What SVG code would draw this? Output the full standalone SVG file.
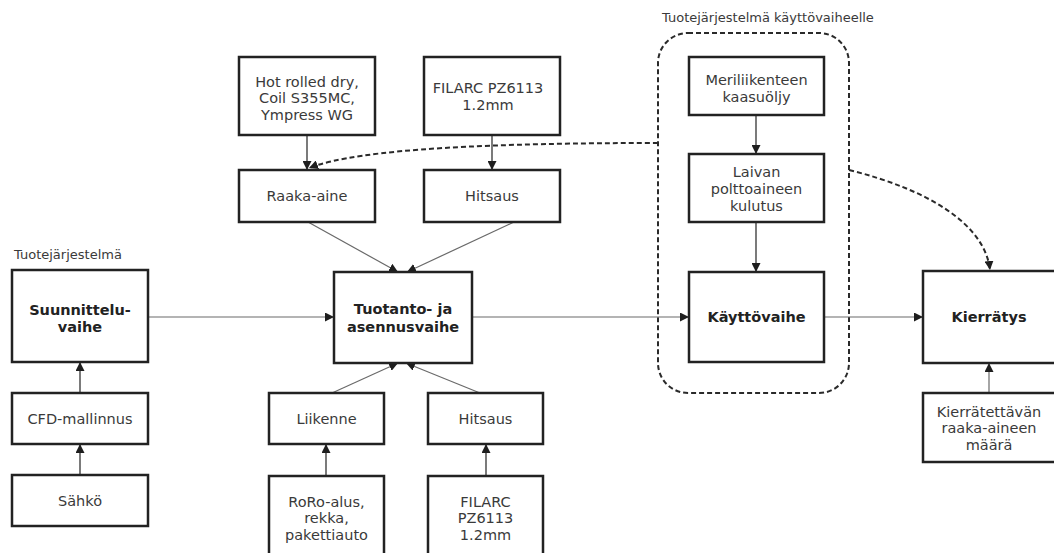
<svg xmlns="http://www.w3.org/2000/svg" width="1054" height="553" viewBox="0 0 1054 553">
  <defs>
    <marker id="ah" viewBox="0 0 10 10" refX="10" refY="5" markerWidth="9" markerHeight="9" markerUnits="userSpaceOnUse" orient="auto">
      <path d="M0,0 L10,5 L0,10 z" fill="#1e1e1e"/>
    </marker>
    <style>
      .box { fill: #ffffff; stroke: #222222; stroke-width: 2.5; }
      .t { font-family: "DejaVu Sans", Verdana, sans-serif; font-size: 14.5px; fill: #3a3a3a; text-anchor: middle; }
      .b { font-weight: bold; fill: #222222; }
      .cap { font-family: "DejaVu Sans", Verdana, sans-serif; font-size: 13px; fill: #3a3a3a; }
      .grey { fill: none; stroke: #6a6a6a; stroke-width: 1.2; marker-end: url(#ah); }
      .dark { fill: none; stroke: #222222; stroke-width: 1.2; marker-end: url(#ah); }
      .dash { fill: none; stroke: #2a2a2a; stroke-width: 2; stroke-dasharray: 5 3; }
    </style>
  </defs>
  <rect width="1054" height="553" fill="#ffffff"/>

  <!-- system boundary for the use phase -->
  <g id="use-phase-group">
    <text class="cap" x="662" y="22">Tuotejärjestelmä käyttövaiheelle</text>
    <rect class="dash" x="658" y="33" width="191" height="360" rx="30" ry="30"/>
  </g>
  <text class="cap" x="14" y="259">Tuotejärjestelmä</text>

  <g id="connectors">
    <path class="grey" d="M148,317 L334,317"/>
    <path class="grey" d="M472,317 L689,317"/>
    <path class="grey" d="M824,317 L923,317"/>
    <path class="dark" d="M80,393 L80,362"/>
    <path class="dark" d="M80,475 L80,444"/>
    <path class="dark" d="M307,135 L307,170"/>
    <path class="dark" d="M492,135 L492,170"/>
    <path class="grey" d="M308,222 L398,272"/>
    <path class="grey" d="M514,222 L407,272"/>
    <path class="grey" d="M332,393 L398,363"/>
    <path class="grey" d="M480,393 L406,363"/>
    <path class="dark" d="M326,476 L326,444"/>
    <path class="dark" d="M486,476 L486,444"/>
    <path class="dark" d="M756,115 L756,154"/>
    <path class="dark" d="M756,222 L756,272"/>
    <path class="grey" d="M989,393 L989,363"/>
    <path class="dash" d="M658,143 C 500,143 360,148 309,168" marker-end="url(#ah)"/>
    <path class="dash" d="M849,170 C 930,190 985,225 990,270" marker-end="url(#ah)"/>
  </g>

  <g id="suunnitteluvaihe">
    <rect class="box" x="12" y="270" width="136" height="92"/>
    <text class="t b" x="80" y="315">Suunnittelu-</text>
    <text class="t b" x="80" y="332">vaihe</text>
  </g>
  <g id="cfd-mallinnus">
    <rect class="box" x="12" y="393" width="136" height="51"/>
    <text class="t" x="80" y="424">CFD-mallinnus</text>
  </g>
  <g id="sahko">
    <rect class="box" x="12" y="475" width="136" height="51"/>
    <text class="t" x="80" y="506">Sähkö</text>
  </g>

  <g id="hot-rolled">
    <rect class="box" x="239" y="57" width="136" height="78"/>
    <text class="t" x="307" y="87">Hot rolled dry,</text>
    <text class="t" x="307" y="103">Coil S355MC,</text>
    <text class="t" x="307" y="120">Ympress WG</text>
  </g>
  <g id="filarc-top">
    <rect class="box" x="424" y="57" width="136" height="78"/>
    <text class="t" x="488" y="93">FILARC PZ6113</text>
    <text class="t" x="488" y="110">1.2mm</text>
  </g>
  <g id="raaka-aine">
    <rect class="box" x="239" y="170" width="136" height="52"/>
    <text class="t" x="307" y="201">Raaka-aine</text>
  </g>
  <g id="hitsaus-top">
    <rect class="box" x="424" y="170" width="136" height="52"/>
    <text class="t" x="492" y="201">Hitsaus</text>
  </g>

  <g id="tuotanto">
    <rect class="box" x="334" y="272" width="138" height="91"/>
    <text class="t b" x="403" y="314">Tuotanto- ja</text>
    <text class="t b" x="403" y="332">asennusvaihe</text>
  </g>

  <g id="liikenne">
    <rect class="box" x="269" y="393" width="115" height="51"/>
    <text class="t" x="326.5" y="424">Liikenne</text>
  </g>
  <g id="hitsaus-bottom">
    <rect class="box" x="428" y="393" width="115" height="51"/>
    <text class="t" x="485.5" y="424">Hitsaus</text>
  </g>
  <g id="roro">
    <rect class="box" x="269" y="476" width="115" height="82"/>
    <text class="t" x="326.5" y="507">RoRo-alus,</text>
    <text class="t" x="326.5" y="523">rekka,</text>
    <text class="t" x="326.5" y="540">pakettiauto</text>
  </g>
  <g id="filarc-bottom">
    <rect class="box" x="428" y="476" width="115" height="82"/>
    <text class="t" x="485.5" y="507">FILARC</text>
    <text class="t" x="485.5" y="523">PZ6113</text>
    <text class="t" x="485.5" y="540">1.2mm</text>
  </g>

  <g id="meriliikenne">
    <rect class="box" x="689" y="57" width="135" height="58"/>
    <text class="t" x="756.5" y="85">Meriliikenteen</text>
    <text class="t" x="756.5" y="102">kaasuöljy</text>
  </g>
  <g id="laivan-kulutus">
    <rect class="box" x="689" y="154" width="135" height="68"/>
    <text class="t" x="756.5" y="177">Laivan</text>
    <text class="t" x="756.5" y="194">polttoaineen</text>
    <text class="t" x="756.5" y="211">kulutus</text>
  </g>
  <g id="kayttovaihe">
    <rect class="box" x="689" y="272" width="135" height="90"/>
    <text class="t b" x="756.5" y="322">Käyttövaihe</text>
  </g>

  <g id="kierratys">
    <rect class="box" x="923" y="271" width="140" height="92"/>
    <text class="t b" x="989" y="322">Kierrätys</text>
  </g>
  <g id="kierratettava">
    <rect class="box" x="923" y="393" width="140" height="69"/>
    <text class="t" x="989" y="417">Kierrätettävän</text>
    <text class="t" x="989" y="433">raaka-aineen</text>
    <text class="t" x="989" y="450">määrä</text>
  </g>
</svg>
